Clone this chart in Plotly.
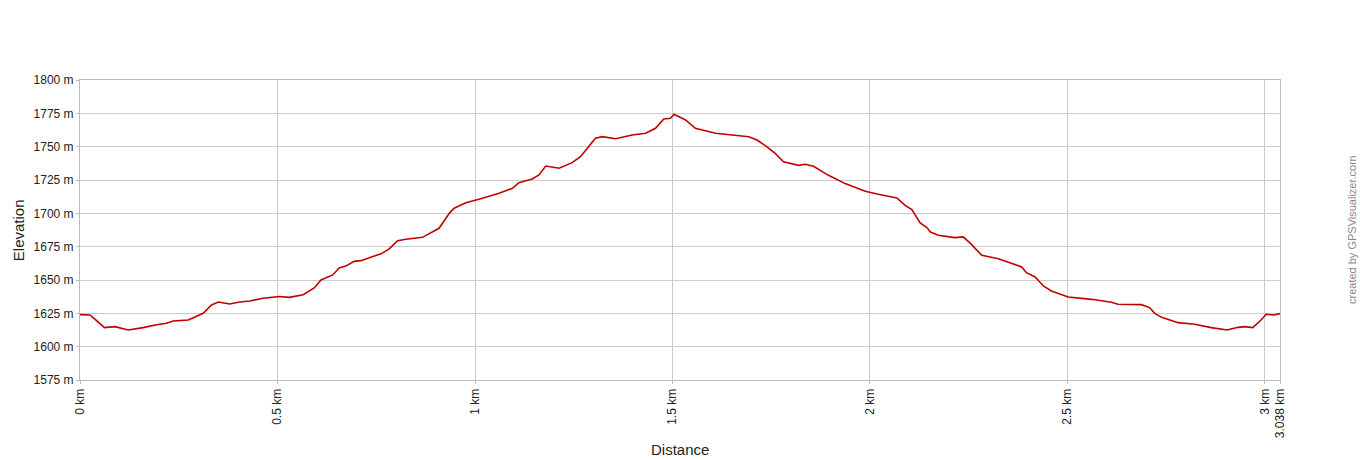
import plotly.graph_objects as go

distance_km = [0.000, 0.025, 0.037, 0.062, 0.088, 0.122, 0.160, 0.194, 0.219, 0.236, 0.274,
               0.312, 0.333, 0.350, 0.379, 0.404, 0.430, 0.463, 0.505, 0.530, 0.565, 0.593,
               0.610, 0.640, 0.656, 0.673, 0.694, 0.711, 0.749, 0.762, 0.783, 0.804, 0.825,
               0.867, 0.909, 0.935, 0.947, 0.977, 1.010, 1.061, 1.095, 1.111, 1.145, 1.162,
               1.179, 1.213, 1.246, 1.267, 1.305, 1.322, 1.356, 1.398, 1.432, 1.457, 1.478,
               1.495, 1.504, 1.533, 1.558, 1.609, 1.651, 1.693, 1.714, 1.735, 1.760, 1.781,
               1.819, 1.836, 1.857, 1.895, 1.937, 1.988, 2.021, 2.068, 2.089, 2.106, 2.127,
               2.144, 2.153, 2.173, 2.215, 2.236, 2.253, 2.283, 2.325, 2.358, 2.384, 2.396,
               2.418, 2.439, 2.459, 2.502, 2.561, 2.611, 2.628, 2.687, 2.708, 2.721, 2.738,
               2.780, 2.822, 2.864, 2.904, 2.932, 2.949, 2.969, 2.990, 3.003, 3.022, 3.038]
elevation_m = [1624.0, 1623.8, 1620.8, 1614.3, 1615.0, 1612.5, 1614.3, 1616.5, 1617.5, 1619.3, 1620.0,
               1625.0, 1631.3, 1633.5, 1632.0, 1633.5, 1634.3, 1636.3, 1637.6, 1637.0, 1639.0, 1644.0,
               1650.0, 1653.8, 1659.0, 1660.4, 1664.0, 1664.5, 1668.4, 1669.6, 1673.3, 1679.4, 1680.6,
               1682.0, 1688.8, 1700.0, 1703.8, 1708.0, 1710.5, 1715.0, 1718.8, 1723.0, 1725.8, 1728.8,
               1735.5, 1733.8, 1738.0, 1742.5, 1756.3, 1757.5, 1756.0, 1758.8, 1760.0, 1763.8, 1770.8,
               1771.3, 1774.3, 1770.0, 1763.8, 1760.0, 1758.8, 1757.5, 1755.0, 1750.8, 1745.0, 1738.6,
               1736.0, 1736.8, 1735.3, 1728.5, 1722.3, 1716.5, 1714.3, 1711.5, 1706.0, 1702.8, 1692.8,
               1689.3, 1686.0, 1683.5, 1681.8, 1682.3, 1677.8, 1668.5, 1666.0, 1662.8, 1659.8, 1655.5,
               1652.3, 1645.5, 1641.8, 1637.3, 1635.5, 1633.3, 1631.8, 1631.5, 1629.3, 1625.0, 1622.0,
               1618.0, 1616.8, 1614.3, 1612.5, 1614.5, 1615.0, 1614.3, 1620.0, 1624.3, 1623.8, 1624.8]

x_tick_vals = [0, 0.5, 1, 1.5, 2, 2.5, 3, 3.038]
x_tick_text = ["0 km", "0.5 km", "1 km", "1.5 km", "2 km", "2.5 km", "3 km", "3.038 km"]
y_tick_vals = [1575, 1600, 1625, 1650, 1675, 1700, 1725, 1750, 1775, 1800]
y_tick_text = [f"{v} m" for v in y_tick_vals]

FONT = "Arial, Liberation Sans, sans-serif"
GRID = "#cccccc"

fig = go.Figure()
fig.add_trace(go.Scatter(
    x=distance_km, y=elevation_m, mode="lines",
    line=dict(color="#c00000", width=1.6),
    hoverinfo="x+y", showlegend=False,
))

fig.update_layout(
    width=1360, height=460,
    margin=dict(l=80, r=80, t=80, b=80),
    paper_bgcolor="white", plot_bgcolor="white",
    font=dict(family=FONT, size=12, color="#222222"),
    xaxis=dict(
        range=[0, 3.038], tickvals=x_tick_vals, ticktext=x_tick_text,
        tickangle=-90, showgrid=True, gridcolor=GRID, gridwidth=1,
        showline=True, linecolor="#bbbbbb", linewidth=1, mirror=True,
        ticks="outside", ticklen=3, tickcolor="#bbbbbb", zeroline=False,
        tickfont=dict(family=FONT, size=12, color="#222222"),
    ),
    yaxis=dict(
        range=[1575, 1800], tickvals=y_tick_vals, ticktext=y_tick_text,
        showgrid=True, gridcolor=GRID, gridwidth=1,
        showline=True, linecolor="#bbbbbb", linewidth=1, mirror=True,
        ticks="outside", ticklen=3, tickcolor="#bbbbbb", zeroline=False,
        tickfont=dict(family=FONT, size=12, color="#222222"),
    ),
    annotations=[
        dict(text="Distance", xref="paper", yref="paper", x=0.5, y=-0.233,
             xanchor="center", yanchor="middle", showarrow=False,
             font=dict(family=FONT, size=15, color="#222222")),
        dict(text="Elevation", xref="paper", yref="paper", x=-0.0515, y=0.5,
             xanchor="center", yanchor="middle", textangle=-90, showarrow=False,
             font=dict(family=FONT, size=15, color="#222222")),
        dict(text="created by GPSVisualizer.com", xref="paper", yref="paper",
             x=1.06, y=0.5, xanchor="center", yanchor="middle", textangle=-90,
             showarrow=False, font=dict(family=FONT, size=11, color="#888888")),
    ],
)

fig.write_html(
    "out.html",
    config={"displayModeBar": False},
    post_script="document.body.style.margin='0';document.body.style.overflow='hidden';",
)
